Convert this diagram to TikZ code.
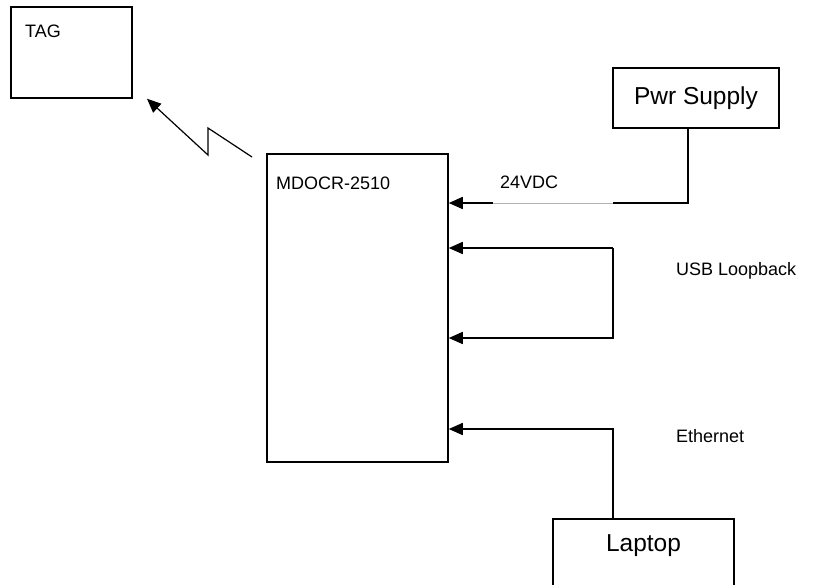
\documentclass[tikz,border=0pt]{standalone}
\usepackage{fontspec}
\setmainfont{Liberation Sans}
\usepackage{tikz}
\usetikzlibrary{arrows.meta, positioning}

\tikzset{
  box/.style = {draw, line width=1.5pt, inner sep=0pt},
  wire/.style = {line width=1.5pt},
  feed/.style = {wire, -{Triangle[length=14pt, width=12pt]}},
  tiny/.style = {font=\fontsize{18}{21}\selectfont, inner sep=0pt},
  big/.style = {font=\fontsize{24.5}{29}\selectfont, inner sep=0pt}
}

\begin{document}
\begin{tikzpicture}[x=1pt, y=-1pt]
	\useasboundingbox (0,0) rectangle (814,584);
	\clip (0,0) rectangle (814,584);
	% boxes
	\node[box, minimum width=121pt, minimum height=91pt] (tag) at (71.5,52.5) {};
	\node[tiny, anchor=base west] (tagtxt) at (25,37) {TAG};
	\node[box, minimum width=181pt, minimum height=308pt] (mdocr) at (357.5,308) {};
	\node[tiny, anchor=base west] (mdocrtxt) at (276,189) {MDOCR-2510};
	\node[box, minimum width=166pt, minimum height=60pt] (pwr) at (696,98) {};
	\node[big] (pwrtxt) at (pwr.center) {Pwr Supply};
	\node[box, minimum width=181pt, minimum height=90pt] (laptop) at (643.5,564) {};
	\node[big] (laptoptxt) at (643.5,546) {Laptop};
	% labels
	\node[tiny, anchor=base west] (vdc) at (500,188) {24VDC};
	\node[tiny, anchor=base west] (usb) at (676,275) {USB Loopback};
	\node[tiny, anchor=base west] (eth) at (676,442) {Ethernet};
	% wireless link
	\coordinate (rf) at (252,157);
	\draw[feed, line width=1.2pt, line join=miter] (rf) -- (208,128) -- (208,155) -- (tag.south east -| 147,113);
	% power feed
	\coordinate (pk) at (688,203);
	\coordinate (gapr) at (613,203);
	\coordinate (gapl) at (493,203);
	\draw[wire] (pwr.south -| pk) -- (pk) -- (gapr);
	\draw[gray!60, line width=0.6pt] (gapr) -- (gapl);
	\draw[feed] (gapl) -- (mdocr.east |- gapl);
	% usb loopback
	\coordinate (ua) at (613,248);
	\coordinate (ub) at (613,338);
	\draw[feed] (ua) -- (mdocr.east |- ua);
	\draw[feed] (ua) -- (ub) -- (mdocr.east |- ub);
	% ethernet
	\coordinate (ek) at (613,429);
	\draw[feed] (laptop.north -| ek) -- (ek) -- (mdocr.east |- ek);
\end{tikzpicture}
\end{document}
